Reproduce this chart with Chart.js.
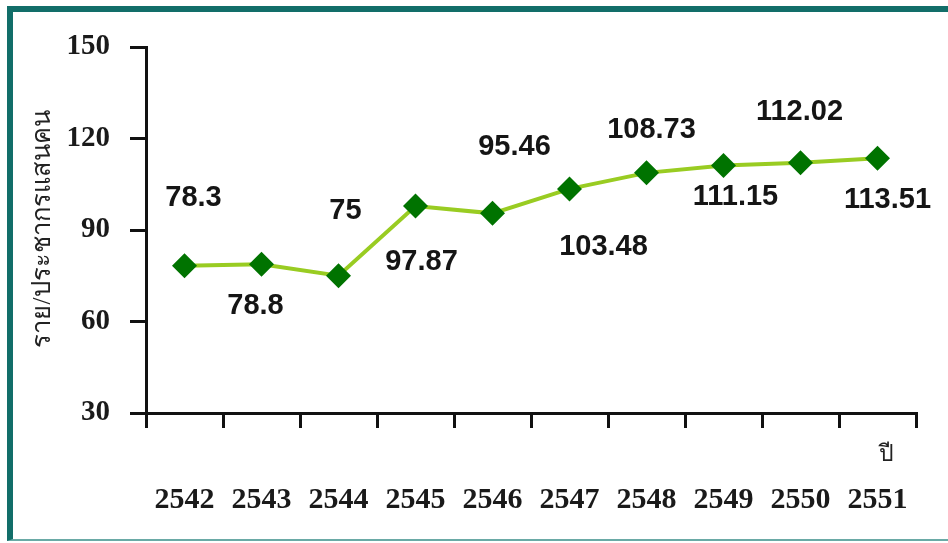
<!DOCTYPE html>
<html>
<head>
<meta charset="utf-8">
<script src="https://cdn.jsdelivr.net/npm/chart.js@4/dist/chart.umd.min.js"></script>
<style>
  html, body { margin: 0; padding: 0; background: #fff; }
  #frame {
    position: absolute; left: 7px; top: 6px; width: 960px; height: 527px;
    border-top: 6px solid #126e69; border-left: 6px solid #126e69;
    border-bottom: 2px solid #6aaaa6;
  }
  #wrap { position: absolute; left: 0; top: 0; width: 948px; height: 543px; }
</style>
</head>
<body>
<div id="frame"></div>
<div id="wrap"><canvas id="graph"></canvas></div>
<script>
// ปี พ.ศ.
var years = ['2542', '2543', '2544', '2545', '2546', '2547', '2548', '2549', '2550', '2551'];
// ราย/ประชากรแสนคน
var rates = [78.3, 78.8, 75, 97.87, 95.46, 103.48, 108.73, 111.15, 112.02, 113.51];
var yTicks = [30, 60, 90, 120, 150];
var yTitle = 'ราย/ประชากรแสนคน';
var xTitle = 'ปี';

// where each value label sits relative to its point (px)
var labelShift = [[9, -68], [-6, 42], [7, -65], [6, 56], [22, -66],
                  [34, 58], [5, -43], [12, 32], [-1, -51], [10, 42]];

var labelPlugin = {
  id: 'labels',
  afterDatasetsDraw: function(chart) {
    var ctx = chart.ctx;
    var meta = chart.getDatasetMeta(0);
    ctx.save();
    ctx.fillStyle = '#151515';
    ctx.font = 'bold 29px "Liberation Sans", Arial, sans-serif';
    ctx.textAlign = 'center';
    ctx.textBaseline = 'middle';
    meta.data.forEach(function(pt, i) {
      ctx.fillText(String(rates[i]), pt.x + labelShift[i][0], pt.y + labelShift[i][1]);
    });
    // axis titles
    ctx.fillStyle = '#222';
    ctx.font = '23px "Liberation Serif", serif';
    ctx.fillText(xTitle, 886, 455);
    ctx.translate(43, 229);
    ctx.rotate(-Math.PI / 2);
    ctx.font = '25.5px "Liberation Serif", serif';
    ctx.fillText(yTitle, 0, 0);
    ctx.restore();
  }
};

var data = {
  labels: years,
  datasets: [{
    data: rates,
    borderColor: '#99cc22',
    borderWidth: 4,
    backgroundColor: '#007300',
    pointStyle: 'rectRot',
    pointRadius: 12.5,
    pointHoverRadius: 12.5,
    pointBorderWidth: 0,
    tension: 0
  }]
};

var config = {
  type: 'line',
  data: data,
  plugins: [labelPlugin],
  options: {
    responsive: false,
    animation: false,
    events: [],
    layout: { padding: { top: 47, right: 32, left: 0, bottom: 0 } },
    plugins: { legend: { display: false }, tooltip: { enabled: false } },
    scales: {
      x: {
        offset: true,
        afterFit: function(s) { s.height = 130; s.paddingLeft = 0; s.paddingRight = 0; },
        border: { display: true, color: '#111', width: 3 },
        grid: { offset: true, drawOnChartArea: false, drawTicks: true, tickLength: 15, color: '#111', lineWidth: 3 },
        ticks: {
          padding: 54,
          color: '#1a1a1a',
          font: { family: '"Liberation Serif", "Times New Roman", serif', size: 30, weight: 'bold' }
        }
      },
      y: {
        min: 30,
        max: 150,
        afterFit: function(s) { s.width = 146; s.paddingTop = 0; s.paddingBottom = 0; },
        afterBuildTicks: function(s) { s.ticks = yTicks.map(function(v) { return { value: v }; }); },
        border: { display: true, color: '#111', width: 3 },
        grid: { drawOnChartArea: false, drawTicks: true, tickLength: 16, color: '#111', lineWidth: 3 },
        ticks: {
          padding: 20,
          color: '#1a1a1a',
          font: { family: '"Liberation Serif", "Times New Roman", serif', size: 29, weight: 'bold' }
        }
      }
    }
  }
};

var cv = document.getElementById('graph');
cv.width = 948; cv.height = 543;
var graph = new Chart(cv, config);
</script>
</body>
</html>
